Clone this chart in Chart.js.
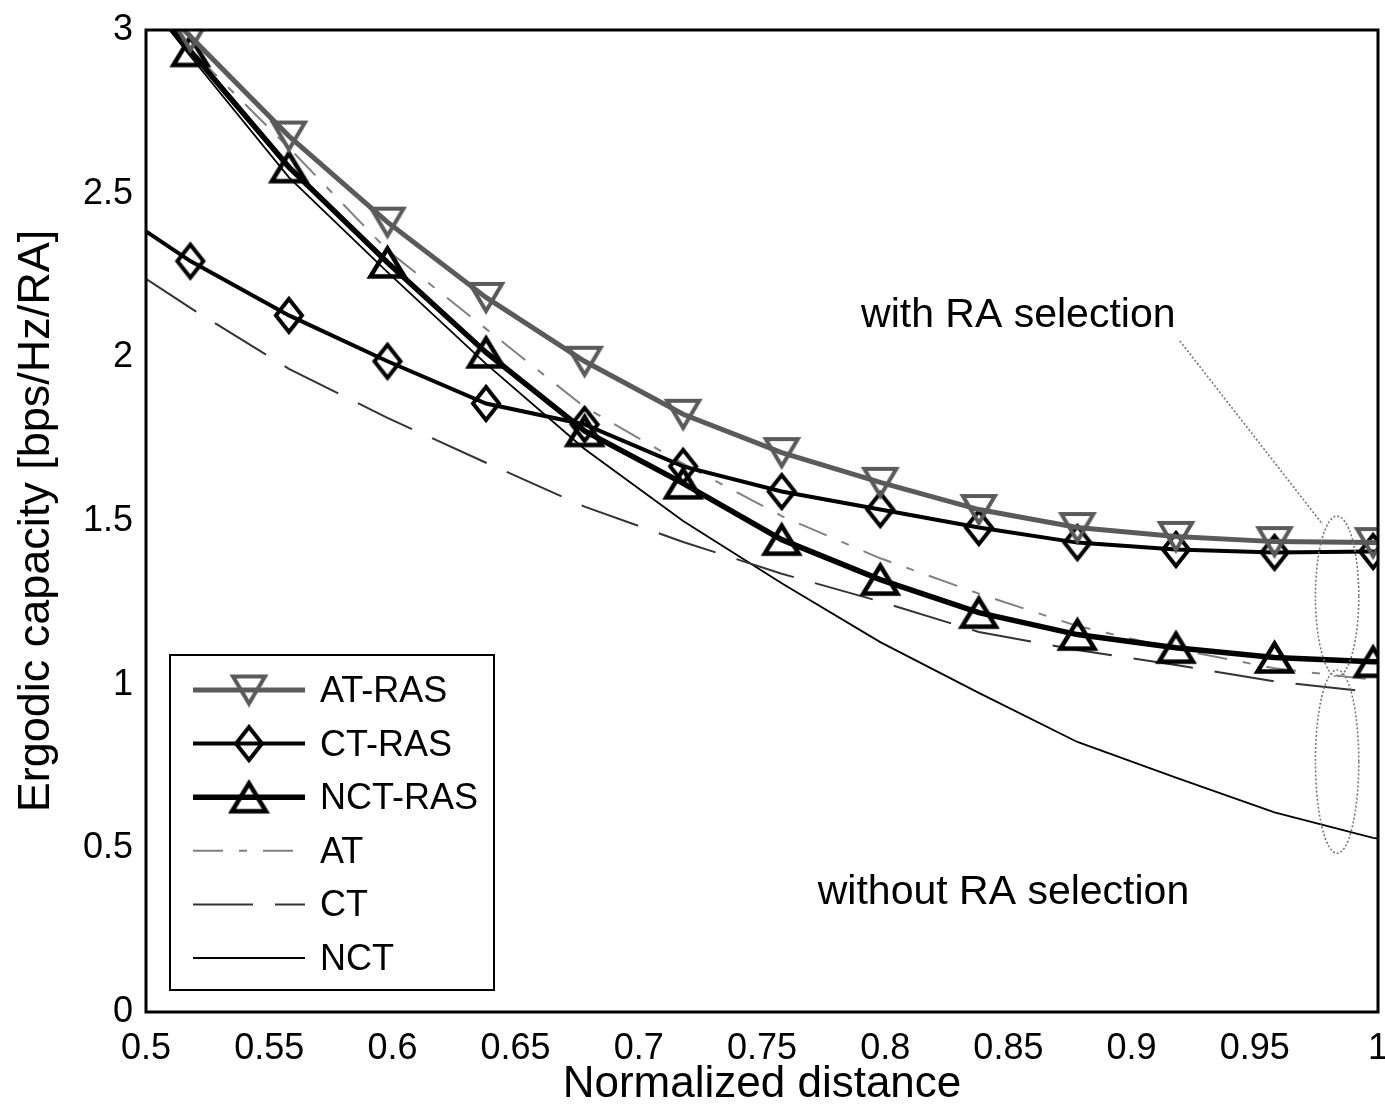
<!DOCTYPE html>
<html>
<head>
<meta charset="utf-8">
<title>Ergodic capacity vs normalized distance</title>
<script src="https://cdn.jsdelivr.net/npm/chart.js@4.4.1/dist/chart.umd.min.js"></script>
<style>
  html, body { margin: 0; padding: 0; background: #fff; }
  #wrap { width: 1385px; height: 1117px; }
</style>
</head>
<body>
<div id="wrap"><canvas id="capacityChart" width="1385" height="1117"></canvas></div>
<script>
// normalized distance grid (first/last entries are the axis edges)
const distance = [0.5, 0.518, 0.558, 0.598, 0.638, 0.678, 0.718, 0.758, 0.798, 0.838, 0.878, 0.918, 0.958, 0.998, 1.0];

// ergodic capacity [bps/Hz/RA]
const atRas  = [3.12, 2.98, 2.676, 2.413, 2.183, 1.988, 1.826, 1.709, 1.618, 1.535, 1.48, 1.453, 1.437, 1.434, 1.433];
const ctRas  = [2.385, 2.294, 2.128, 1.988, 1.859, 1.795, 1.667, 1.59, 1.535, 1.48, 1.434, 1.413, 1.404, 1.407, 1.407];
const nctRas = [3.10, 2.936, 2.581, 2.29, 2.015, 1.775, 1.615, 1.443, 1.321, 1.22, 1.153, 1.113, 1.083, 1.07, 1.07];
const at     = [3.075, 2.94, 2.64, 2.327, 2.087, 1.848, 1.675, 1.515, 1.386, 1.278, 1.179, 1.109, 1.05, 1.015, 1.012];
const ct     = [2.24, 2.151, 1.965, 1.815, 1.678, 1.544, 1.436, 1.339, 1.254, 1.161, 1.106, 1.06, 1.01, 0.977, 0.975];
const nct    = [3.09, 2.92, 2.55, 2.26, 1.98, 1.72, 1.50, 1.31, 1.13, 0.975, 0.825, 0.716, 0.61, 0.532, 0.53];

const xTicks = [0.5, 0.55, 0.6, 0.65, 0.7, 0.75, 0.8, 0.85, 0.9, 0.95, 1];
const yTicks = [0, 0.5, 1, 1.5, 2, 2.5, 3];

const FONT = "'Liberation Sans', Arial, Helvetica, sans-serif";

// hollow marker glyphs drawn once on small canvases
function makeMarker(kind, w, h, lw, color) {
    const c = document.createElement('canvas');
    c.width = Math.ceil(w + lw * 2);
    c.height = Math.ceil(h + lw * 2);
    const g = c.getContext('2d');
    g.translate(c.width / 2, c.height / 2);
    g.beginPath();
    if (kind === 'down') {
        g.moveTo(-w / 2, -h / 2); g.lineTo(w / 2, -h / 2); g.lineTo(0, h / 2);
    } else if (kind === 'up') {
        g.moveTo(-w / 2, h / 2); g.lineTo(w / 2, h / 2); g.lineTo(0, -h / 2);
    } else {
        g.moveTo(0, -h / 2); g.lineTo(w / 2, 0); g.lineTo(0, h / 2); g.lineTo(-w / 2, 0);
    }
    g.closePath();
    g.lineJoin = 'miter';
    g.lineWidth = lw;
    g.strokeStyle = color;
    g.stroke();
    return c;
}

const downTri = makeMarker('down', 32, 27, 4, '#5a5a5a');
const diamond = makeMarker('diamond', 26, 33, 4, '#000');
const upTri   = makeMarker('up', 34, 28, 4.5, '#000');

// no marker on the two edge points
const markerRadius = distance.map((x, i) => (i === 0 || i === distance.length - 1) ? 0 : 8);

function pts(series) {
    return distance.map((x, i) => ({ x: x, y: series[i] }));
}

const datasets = [
    { label: 'AT-RAS', data: pts(atRas), borderColor: '#5a5a5a', borderWidth: 5, pointStyle: downTri, pointRadius: markerRadius },
    { label: 'CT-RAS', data: pts(ctRas), borderColor: '#000', borderWidth: 4, pointStyle: diamond, pointRadius: markerRadius },
    { label: 'NCT-RAS', data: pts(nctRas), borderColor: '#000', borderWidth: 5.5, pointStyle: upTri, pointRadius: markerRadius },
    { label: 'AT', data: pts(at), borderColor: '#808080', borderWidth: 2, borderDash: [30, 16, 8, 16], pointRadius: 0 },
    { label: 'CT', data: pts(ct), borderColor: '#333', borderWidth: 2, borderDash: [60, 22], pointRadius: 0 },
    { label: 'NCT', data: pts(nct), borderColor: '#000', borderWidth: 1.8, pointRadius: 0 }
];

// plot frame, annotations and the boxed legend
const decorations = {
    id: 'decorations',
    afterDatasetsDraw(chart) {
        const { ctx, chartArea: a, scales: { x, y } } = chart;
        ctx.save();

        // frame
        ctx.lineWidth = 3;
        ctx.strokeStyle = '#000';
        ctx.setLineDash([]);
        ctx.strokeRect(a.left, a.top, a.right - a.left, a.bottom - a.top);

        // dotted grouping ellipses + leader line
        ctx.strokeStyle = '#777';
        ctx.lineWidth = 1.6;
        ctx.setLineDash([2, 2]);
        const ell = (cx, cy, rxv, ryv) => {
            const px = x.getPixelForValue(cx), py = y.getPixelForValue(cy);
            const rx = Math.abs(x.getPixelForValue(cx + rxv) - px);
            const ry = Math.abs(y.getPixelForValue(cy + ryv) - py);
            ctx.beginPath();
            ctx.ellipse(px, py, rx, ry, 0, 0, Math.PI * 2);
            ctx.stroke();
        };
        ell(0.9834, 1.27, 0.0088, 0.245);
        ell(0.9834, 0.765, 0.0088, 0.28);
        ctx.beginPath();
        ctx.moveTo(x.getPixelForValue(0.9196), y.getPixelForValue(2.05));
        ctx.lineTo(x.getPixelForValue(0.9775), y.getPixelForValue(1.49));
        ctx.stroke();

        // annotation text
        ctx.setLineDash([]);
        ctx.fillStyle = '#000';
        ctx.font = '41px ' + FONT;
        ctx.textAlign = 'center';
        ctx.textBaseline = 'middle';
        ctx.fillText('with RA selection', x.getPixelForValue(0.854), y.getPixelForValue(2.128));
        ctx.fillText('without RA selection', x.getPixelForValue(0.848), y.getPixelForValue(0.364));

        // legend box
        const bx = a.left + 24, bw = 324, bh = 335, by = a.bottom - 357;
        ctx.fillStyle = '#fff';
        ctx.fillRect(bx, by, bw, bh);
        ctx.lineWidth = 2;
        ctx.strokeStyle = '#000';
        ctx.strokeRect(bx, by, bw, bh);

        ctx.font = '36px ' + FONT;
        ctx.textAlign = 'left';
        chart.data.datasets.forEach((ds, i) => {
            const ry = by + 35 + i * 53.6;
            const x1 = bx + 23, x2 = bx + 135;
            ctx.save();
            ctx.strokeStyle = ds.borderColor;
            ctx.lineWidth = ds.borderWidth;
            ctx.setLineDash(ds.borderDash || []);
            ctx.beginPath();
            ctx.moveTo(x1, ry);
            ctx.lineTo(x2, ry);
            ctx.stroke();
            ctx.restore();
            if (ds.pointStyle && typeof ds.pointStyle === 'object') {
                const m = ds.pointStyle;
                ctx.drawImage(m, (x1 + x2) / 2 - m.width / 2, ry - m.height / 2);
            }
            ctx.fillStyle = '#000';
            ctx.fillText(ds.label, bx + 150, ry + 2);
        });
        ctx.restore();
    }
};

new Chart(document.getElementById('capacityChart'), {
    type: 'line',
    data: { datasets: datasets },
    options: {
        responsive: false,
        animation: false,
        events: [],
        layout: { padding: { top: 30, right: 7, left: 0, bottom: 0 } },
        elements: { line: { tension: 0 } },
        plugins: {
            legend: { display: false },
            tooltip: { enabled: false }
        },
        scales: {
            x: {
                type: 'linear',
                min: 0.5,
                max: 1,
                grid: { display: false, drawTicks: false },
                border: { display: false },
                afterBuildTicks(scale) {
                    scale.ticks = xTicks.map(v => ({ value: v }));
                },
                afterFit(scale) {
                    scale.height = 105;
                    scale.paddingLeft = 0;
                    scale.paddingRight = 0;
                },
                ticks: {
                    color: '#000',
                    padding: 15,
                    maxRotation: 0,
                    autoSkip: false,
                    font: { family: FONT, size: 36 },
                    callback: v => String(Number(v.toFixed(2)))
                },
                title: {
                    display: true,
                    text: 'Normalized distance',
                    color: '#000',
                    font: { family: FONT, size: 44 },
                    padding: { top: 0, bottom: 6 }
                }
            },
            y: {
                min: 0,
                max: 3,
                grid: { display: false, drawTicks: false },
                border: { display: false },
                afterBuildTicks(scale) {
                    scale.ticks = yTicks.map(v => ({ value: v }));
                },
                afterFit(scale) {
                    scale.width = 146;
                    scale.paddingTop = 0;
                    scale.paddingBottom = 0;
                },
                ticks: {
                    color: '#000',
                    padding: 13,
                    autoSkip: false,
                    font: { family: FONT, size: 36 },
                    callback: v => String(Number(v.toFixed(2)))
                },
                title: {
                    display: true,
                    text: 'Ergodic capacity [bps/Hz/RA]',
                    color: '#000',
                    font: { family: FONT, size: 45 },
                    padding: { top: 10, bottom: 0 }
                }
            }
        }
    },
    plugins: [decorations]
});
</script>
</body>
</html>
